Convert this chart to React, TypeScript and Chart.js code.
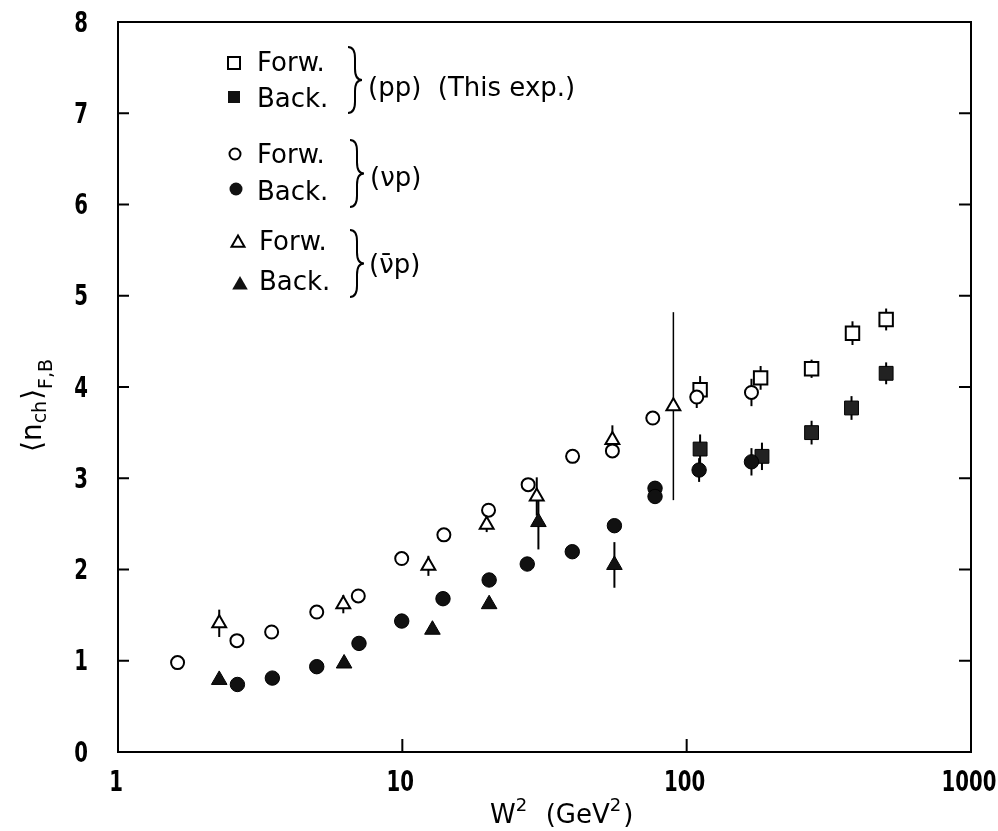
import React, { useEffect, useRef } from "react";
import { Chart, registerables } from "chart.js";

Chart.register(...registerables);

// ---- data (x = W^2 in GeV^2, y = <n_ch>_F,B) ----
const ppForwX = [111.5, 182, 275, 383, 503];
const ppForwY = [3.97, 4.1, 4.2, 4.59, 4.74];
const ppForwErr = [0.15, 0.13, 0.1, 0.13, 0.12];

const ppBackX = [111.5, 184, 275, 380, 503];
const ppBackY = [3.32, 3.24, 3.5, 3.77, 4.15];
const ppBackErr = [0.16, 0.15, 0.13, 0.13, 0.12];

const nuForwX = [1.62, 2.62, 3.47, 5.0, 7.0, 9.95, 14.0, 20.1, 27.7, 39.7, 54.8, 76, 108.5, 169];
const nuForwY = [0.98, 1.22, 1.315, 1.534, 1.71, 2.12, 2.38, 2.65, 2.93, 3.24, 3.3, 3.66, 3.89, 3.94];
const nuForwErr = [0, 0, 0, 0, 0, 0, 0, 0, 0, 0, 0, 0, 0.12, 0.15];

const nuBackX = [2.63, 3.49, 5.0, 7.04, 9.95, 13.9, 20.2, 27.5, 39.6, 55.7, 77.4, 77.4, 110.6, 169];
const nuBackY = [0.74, 0.81, 0.935, 1.19, 1.435, 1.68, 1.885, 2.06, 2.195, 2.48, 2.89, 2.8, 3.09, 3.18];
const nuBackErr = [0, 0, 0, 0, 0, 0, 0, 0, 0, 0, 0, 0, 0.13, 0.15];

const nubarForwX = [2.27, 6.2, 12.35, 19.8, 29.7, 54.8, 89.8];
const nubarForwY = [1.41, 1.62, 2.04, 2.49, 2.8, 3.42, 3.79];
const nubarForwErr = [0.15, 0.1, 0.11, 0.08, 0.21, 0.16, 1.03];

const nubarBackX = [2.27, 6.24, 12.76, 20.2, 30.1, 55.7];
const nubarBackY = [0.79, 0.97, 1.34, 1.62, 2.52, 2.05];
const nubarBackErr = [0, 0, 0, 0, 0.3, 0.25];

const xTickLabels = [1, 10, 100, 1000];
const yTickLabels = [0, 1, 2, 3, 4, 5, 6, 7, 8];
const yMin = 0;
const yMax = 8;

const entryLabels = ["Forw.", "Back."];
const groupLabels = ["(pp)  (This exp.)", "(\u03BDp)", "(\u03BD\u0304p)"];
const yTitleMain = ["\u27E8n", "\u27E9"];
const yTitleSubs = ["ch", "F,B"];
const xTitle = ["W", "2", "  (GeV", "2", ")"];

const TEXT_FONT = '"DejaVu Sans", sans-serif';

function mk(label: string, xs: number[], ys: number[], errs: number[], style: string, radius: number, fill: string, bw: number) {
  return {
    label,
    data: xs.map((x, i) => ({ x, y: ys[i] })),
    errors: errs,
    pointStyle: style,
    pointRadius: radius,
    pointHoverRadius: radius,
    pointBackgroundColor: fill,
    pointBorderColor: "#000",
    pointBorderWidth: bw,
    showLine: false,
  } as any;
}

function drawBrace(ctx: CanvasRenderingContext2D, x: number, yTop: number, yBot: number, w: number) {
  const mid = (yTop + yBot) / 2;
  const h = w / 2;
  ctx.beginPath();
  ctx.moveTo(x, yTop);
  ctx.quadraticCurveTo(x + h, yTop, x + h, yTop + h * 1.6);
  ctx.lineTo(x + h, mid - h * 1.6);
  ctx.quadraticCurveTo(x + h, mid, x + w, mid);
  ctx.quadraticCurveTo(x + h, mid, x + h, mid + h * 1.6);
  ctx.lineTo(x + h, yBot - h * 1.6);
  ctx.quadraticCurveTo(x + h, yBot, x, yBot);
  ctx.stroke();
}

function legendMarker(ctx: CanvasRenderingContext2D, kind: string, x: number, y: number) {
  ctx.save();
  ctx.lineWidth = 2;
  ctx.strokeStyle = "#000";
  ctx.fillStyle = "#111";
  ctx.beginPath();
  if (kind === "sqOpen" || kind === "sqFill") {
    ctx.rect(x - 6, y - 6, 12, 12);
  } else if (kind === "ciOpen" || kind === "ciFill") {
    ctx.arc(x, y, kind === "ciOpen" ? 5.5 : 6.5, 0, Math.PI * 2);
  } else {
    const r = kind === "trOpen" ? 7.5 : 9;
    for (let k = 0; k < 3; k++) {
      const a = (k * 2 * Math.PI) / 3;
      const px = x + Math.sin(a) * r;
      const py = y - Math.cos(a) * r;
      if (k === 0) ctx.moveTo(px, py);
      else ctx.lineTo(px, py);
    }
    ctx.closePath();
  }
  if (kind.endsWith("Fill")) ctx.fill();
  else {
    ctx.fillStyle = "#fff";
    ctx.fill();
    ctx.stroke();
  }
  ctx.restore();
}

function narrowText(ctx: CanvasRenderingContext2D, t: string, x: number, y: number, align: CanvasTextAlign) {
  ctx.save();
  ctx.translate(x, y);
  ctx.scale(0.68, 1);
  ctx.textAlign = align;
  ctx.textBaseline = "middle";
  ctx.fillText(t, 0, 0);
  ctx.restore();
}

const framePlugin = {
  id: "frameAndDecor",
  beforeDraw(chart: any) {
    const ctx = chart.ctx;
    ctx.save();
    ctx.fillStyle = "#fff";
    ctx.fillRect(0, 0, chart.width, chart.height);
    ctx.restore();
  },
  beforeDatasetsDraw(chart: any) {
    const { ctx, scales } = chart;
    const xs = scales.x;
    const ys = scales.y;
    ctx.save();
    ctx.strokeStyle = "#000";
    chart.data.datasets.forEach((d: any) => {
      d.data.forEach((p: any, i: number) => {
        const e = d.errors ? d.errors[i] : 0;
        if (!e) return;
        const px = xs.getPixelForValue(p.x);
        ctx.lineWidth = e > 0.5 ? 1.5 : 2;
        ctx.beginPath();
        ctx.moveTo(px, ys.getPixelForValue(p.y - e));
        ctx.lineTo(px, ys.getPixelForValue(p.y + e));
        ctx.stroke();
      });
    });
    ctx.restore();
  },
  afterDraw(chart: any) {
    const { ctx, chartArea: a, scales } = chart;
    const xs = scales.x;
    const ys = scales.y;
    ctx.save();
    ctx.strokeStyle = "#000";
    ctx.lineWidth = 2;
    ctx.strokeRect(a.left, a.top, a.right - a.left, a.bottom - a.top);
    // inward ticks
    ctx.beginPath();
    for (let v = yMin + 1; v < yMax; v++) {
      const py = ys.getPixelForValue(v);
      ctx.moveTo(a.left, py);
      ctx.lineTo(a.left + 11, py);
      ctx.moveTo(a.right, py);
      ctx.lineTo(a.right - 12, py);
    }
    xTickLabels.slice(1, -1).forEach((v) => {
      const px = xs.getPixelForValue(v);
      ctx.moveTo(px, a.bottom);
      ctx.lineTo(px, a.bottom - 13);
    });
    ctx.stroke();

    // tick labels (narrow face, positioned by the chart's scales)
    ctx.fillStyle = "#000";
    ctx.font = "bold 29px " + TEXT_FONT;
    yTickLabels.forEach((v) => {
      narrowText(ctx, String(v), a.left - 30, ys.getPixelForValue(v) + 2, "right");
    });
    xTickLabels.forEach((v) => {
      narrowText(ctx, String(v), xs.getPixelForValue(v) - 2, a.bottom + 31, "center");
    });

    // legend
    ctx.font = "26px " + TEXT_FONT;
    ctx.textBaseline = "alphabetic";
    ctx.textAlign = "left";
    const kinds = [["sqOpen", "sqFill"], ["ciOpen", "ciFill"], ["trOpen", "trFill"]];
    const markerPos = [
      [[234, 63], [234, 97]],
      [[235, 154], [236, 189]],
      [[238, 243], [240, 285]],
    ];
    const textPos = [
      [[257, 71], [257, 107]],
      [[257, 163], [257, 200]],
      [[259, 250], [259, 290]],
    ];
    const braces = [[348, 47, 113], [350, 140, 207], [350, 230, 297]];
    const gText = [[368, 96], [370, 186], [369, 273]];
    for (let g = 0; g < 3; g++) {
      for (let r = 0; r < 2; r++) {
        legendMarker(ctx, kinds[g][r], markerPos[g][r][0], markerPos[g][r][1]);
        ctx.fillText(entryLabels[r], textPos[g][r][0], textPos[g][r][1]);
      }
      ctx.lineWidth = 2;
      drawBrace(ctx, braces[g][0], braces[g][1], braces[g][2], 14);
      ctx.fillText(groupLabels[g], gText[g][0], gText[g][1]);
    }

    // x title
    let cx = 490;
    const by = 823;
    xTitle.forEach((t, i) => {
      const sup = i % 2 === 1;
      ctx.font = (sup ? "18px " : "26px ") + TEXT_FONT;
      ctx.fillText(t, cx, sup ? by - 12 : by);
      cx += ctx.measureText(t).width + (sup ? 2 : 0);
    });

    // y title (rotated)
    ctx.translate(41, 452);
    ctx.rotate(-Math.PI / 2);
    let tx = 0;
    for (let i = 0; i < 2; i++) {
      ctx.font = "28px " + TEXT_FONT;
      ctx.fillText(yTitleMain[i], tx, 0);
      tx += ctx.measureText(yTitleMain[i]).width;
      ctx.font = "19px " + TEXT_FONT;
      ctx.fillText(yTitleSubs[i], tx, i === 0 ? 5 : 11);
      tx += ctx.measureText(yTitleSubs[i]).width + 1;
    }
    ctx.restore();
  },
};

export default function App() {
  const ref = useRef<HTMLCanvasElement | null>(null);
  useEffect(() => {
    if (!ref.current) return;
    const chart = new Chart(ref.current, {
      type: "scatter",
      data: {
        datasets: [
          mk("nubar Forw.", nubarForwX, nubarForwY, nubarForwErr, "triangle", 8, "#fff", 2),
          mk("nubar Back.", nubarBackX, nubarBackY, nubarBackErr, "triangle", 9, "#111", 1),
          mk("nu Forw.", nuForwX, nuForwY, nuForwErr, "circle", 6.5, "#fff", 2),
          mk("nu Back.", nuBackX, nuBackY, nuBackErr, "circle", 7.2, "#111", 1),
          mk("pp Forw.", ppForwX, ppForwY, ppForwErr, "rect", 9.5, "#fff", 2),
          mk("pp Back.", ppBackX, ppBackY, ppBackErr, "rect", 9.8, "#222", 1),
        ],
      },
      options: {
        responsive: false,
        animation: false,
        devicePixelRatio: 1,
        layout: { padding: { left: 8, top: 22, right: 27, bottom: 0 } },
        plugins: { legend: { display: false }, tooltip: { enabled: false }, title: { display: false } },
        scales: {
          x: {
            type: "logarithmic",
            min: xTickLabels[0],
            max: xTickLabels[xTickLabels.length - 1],
            afterFit: (s: any) => {
              s.height = 79;
              s.paddingLeft = 0;
              s.paddingRight = 0;
            },
            grid: { display: false, drawTicks: false },
            border: { display: false },
            ticks: { display: false },
          },
          y: {
            min: yMin,
            max: yMax,
            afterFit: (s: any) => {
              s.width = 110;
              s.paddingTop = 0;
              s.paddingBottom = 0;
            },
            grid: { display: false, drawTicks: false },
            border: { display: false },
            ticks: { display: false, stepSize: 1 },
          },
        },
      } as any,
      plugins: [framePlugin],
    });
    return () => chart.destroy();
  }, []);
  return (
    <div style={{ position: "fixed", left: 0, top: 0, width: 998, height: 831, background: "#fff" }}>
      <canvas ref={ref} width={998} height={831} style={{ display: "block" }} />
    </div>
  );
}
